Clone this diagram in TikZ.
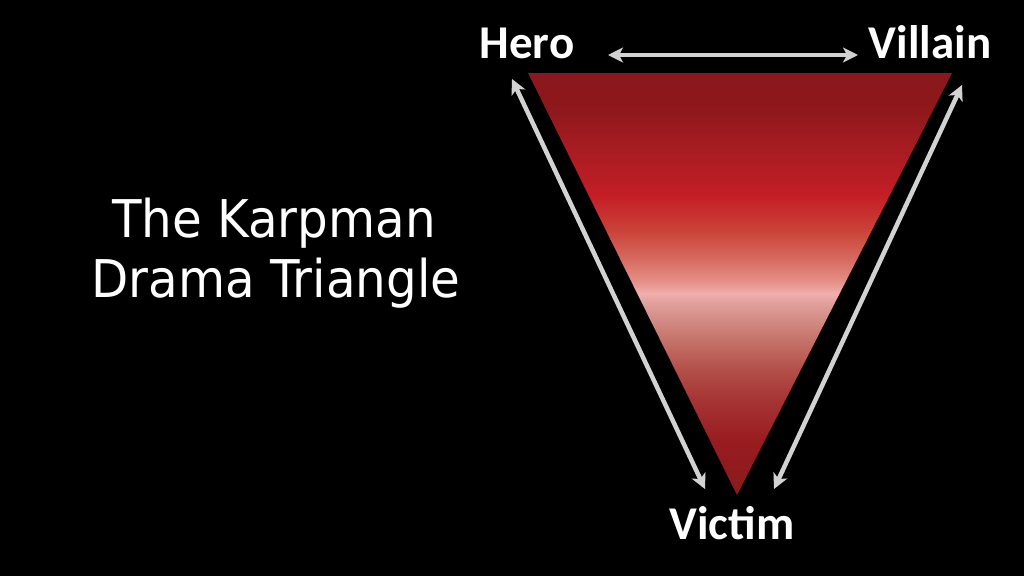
\documentclass[tikz,border=0pt]{standalone}
\usepackage{fontspec}
\usetikzlibrary{arrows.meta}
\newfontfamily\labelfont{Carlito}[BoldFont={Carlito Bold}]
\newfontfamily\titlefont[FakeStretch=0.93]{DejaVu Sans}
\definecolor{arrowgray}{HTML}{D2D2D2}
\definecolor{c1}{HTML}{8A1A1E}
\definecolor{c2}{HTML}{981C20}
\definecolor{c3}{HTML}{A63434}
\definecolor{c4}{HTML}{B24E48}
\definecolor{c5}{HTML}{C8786F}
\definecolor{c6}{HTML}{DC9A96}
\definecolor{c7}{HTML}{F0AEAC}
\definecolor{c8}{HTML}{E49088}
\definecolor{c9}{HTML}{D66A60}
\definecolor{c10}{HTML}{CA4238}
\definecolor{c11}{HTML}{C41E26}
\definecolor{c12}{HTML}{A81C22}
\definecolor{c13}{HTML}{8E181C}
\definecolor{c14}{HTML}{8A181C}
\pgfdeclareverticalshading{karpman}{100bp}{%
  color(0bp)=(c1);
  color(25bp)=(c1);
  color(31.4bp)=(c2);
  color(36.2bp)=(c3);
  color(39.7bp)=(c4);
  color(43.9bp)=(c5);
  color(47.2bp)=(c6);
  color(48.9bp)=(c7);
  color(50.3bp)=(c8);
  color(53.0bp)=(c9);
  color(56.4bp)=(c10);
  color(60.5bp)=(c11);
  color(65.9bp)=(c12);
  color(70.6bp)=(c13);
  color(75bp)=(c14);
  color(100bp)=(c14)}
\tikzset{
  rolelabel/.style={text=white, font=\labelfont\bfseries\fontsize{47}{50}\selectfont, inner sep=0pt, anchor=base},
  titleline/.style={text=white, font=\titlefont\fontsize{52}{60}\selectfont, inner sep=0pt, anchor=base},
  dblarrow/.style={draw=arrowgray, line width=4.5pt, {Stealth[length=15pt,width=15pt,inset=4pt]}-{Stealth[length=15pt,width=15pt,inset=4pt]}}
}
\begin{document}
\begin{tikzpicture}[x=1pt,y=-1pt]
\fill[black] (0,0) rectangle (1024,576);
\useasboundingbox (0,0) rectangle (1024,576);
% triangle
\shade[shading=karpman] (528,73) -- (952,73) -- (737,495) -- cycle;
% labels
\node[rolelabel] (hero) at (527,58) {Hero};
\node[rolelabel] (villain) at (930,58) {Villain};
\node[rolelabel] (victim) at (732,539) {Victim};
% title
\node[titleline] (title1) at (274,237) {The Karpman};
\node[titleline] (title2) at (276,297) {Drama Triangle};
% arrow end points
\coordinate (hv1) at (608,55);
\coordinate (hv2) at (858,55);
\coordinate (hx1) at (512,79);
\coordinate (hx2) at (705,489);
\coordinate (vx1) at (962,85);
\coordinate (vx2) at (774,489);
\draw[dblarrow] (hv1) -- (hv2);
\draw[dblarrow] (hx1) -- (hx2);
\draw[dblarrow] (vx1) -- (vx2);
\end{tikzpicture}
\end{document}
